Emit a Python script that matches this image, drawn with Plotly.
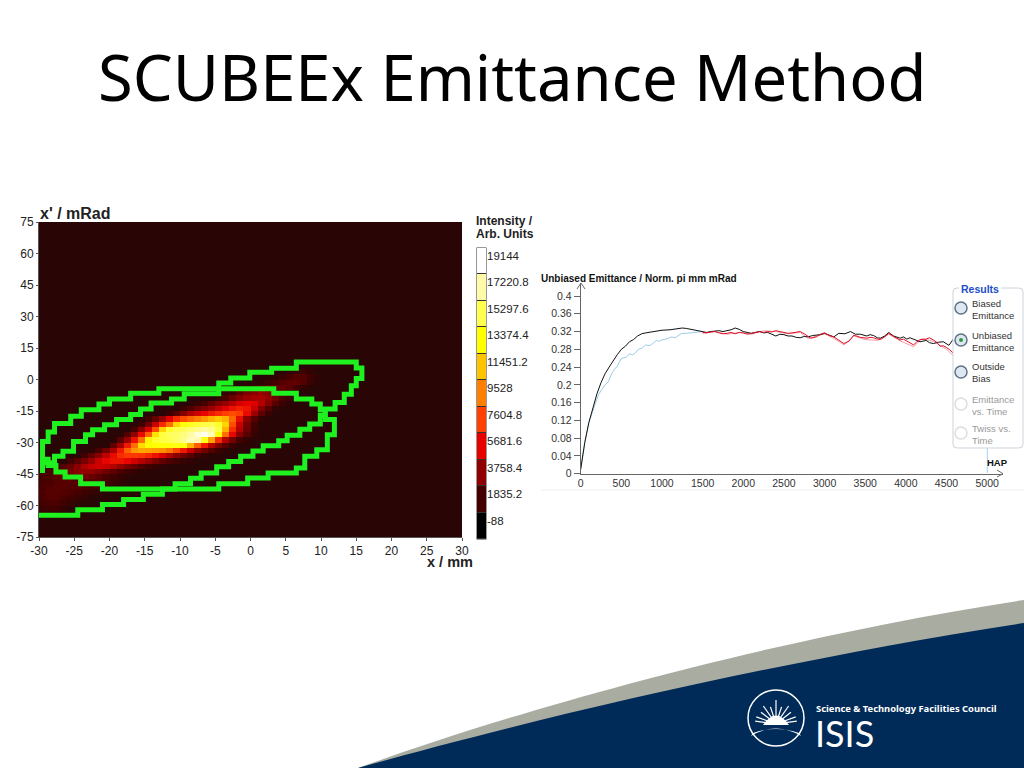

import math
import plotly.graph_objects as go

W, H = 1024, 768
title_text = "SCUBEEx Emittance Method"

# --- phase-space heat map (mm, mRad), intensities in thousands ---
x_ticks = [-30,-25,-20,-15,-10,-5,0,5,10,15,20,25,30]
x_tick_text = ["-30","-25","-20","-15","-10","-5","0","5","10","15","20","25","30"]
y_ticks = [75,60,45,30,15,0,-15,-30,-45,-60,-75]
y_tick_text = ["75","60","45","30","15","0","-15","-30","-45","-60","-75"]
background_level = 1.0
row_y = [3.75,1.25,-1.25,-3.75,-6.25,-8.75,-11.25,-13.75,-16.25,-18.75,-21.25,-23.75,-26.25,-28.75,-31.25,-33.75,-36.25,-38.75,-41.25,-43.75,-46.25,-48.75,-51.25,-53.75,-56.25,-58.75,-61.25,-63.75]
row_start = [5,3,1,-1,-4,-5,-8,-10,-12,-15,-16,-17,-18,-19,-20,-22,-24,-26,-28,-30,-30,-30,-30,-30,-30,-30,-30,-30]
row_vals = [
 [1.2,1.5,1.5,1.2],
 [1.2,1.5,1.9,2.2,2.2,1.6,1.2],
 [1.2,1.5,1.9,2.2,2.5,2.6,2.2,1.5,1.1],
 [1.3,1.6,2.0,2.4,2.6,2.7,2.4,1.8,1.3],
 [1.3,1.7,2.4,3.2,3.6,3.9,3.4,2.7,2.2,1.6,1.2],
 [1.4,2,2.8,3.5,4,4.3,4.3,3.8,3,2,1.5,1.1],
 [1.4,1.9,2.6,3.3,3.9,4.6,5.3,5.7,5.5,4.6,3.4,2.3,1.5],
 [1.5,2.1,2.8,3.4,4,4.8,5.6,6.2,6.6,6.3,5,3.4,2.2,1.4],
 [1.6,2.4,3.4,4.4,5.2,5.8,6.4,7,7.6,8,7.5,6,4,2.5,1.5],
 [1.6,2.6,4,5.6,7,8,8.8,9.5,10.2,11,11.6,11,8.8,6,3.6,2.2,1.3],
 [1.8,3,5,7,9,12,13.6,14.2,14.6,15,15.2,14.5,12,8,5,3,1.7],
 [2,3.6,5.5,8,12,14.4,15.2,15.6,16,16.6,17,16.6,15,11,7,4.6,2.8,1.6],
 [2.2,3.8,6,8.6,12.5,14.8,15.6,15.8,16.2,17,18.2,18.8,17.6,13.6,9,5.8,3.6,2.3,1.4],
 [2.4,4,6.2,9,13,14.4,15,15.2,15.8,16.6,17.6,17.4,14,10.5,7,4.6,3,1.9,1.3],
 [2.6,4.2,6.4,9,12.2,13.2,13.4,13.5,13.6,13.8,13.6,11,8.5,6.5,4.6,3.2,2.2,1.5,1.1],
 [2,3,4.4,6.4,8.6,10.2,10.6,10.4,10.2,10,9.2,7.8,6.4,5,3.8,2.9,2.2,1.6,1.2],
 [1.8,2.6,3.6,4.8,6,7,7.4,7.4,7.2,6.8,6.2,5.4,4.5,3.6,2.9,2.3,1.7,1.3,1.1],
 [1.8,2.4,3.2,4,5,5.8,6.2,6.2,5.8,5.2,4.6,3.9,3.2,2.6,2.1,1.7,1.4,1.2],
 [1.8,2.2,2.8,3.6,4.4,5,5.2,5,4.5,3.8,3.2,2.6,2.1,1.7,1.4,1.2],
 [1.7,2,2.3,2.8,3.2,3.6,3.8,3.8,3.4,2.9,2.4,2,1.6,1.3,1.1],
 [1.9,2.1,2.4,2.7,2.9,3,3,2.8,2.4,2,1.7,1.4,1.2],
 [1.9,2,2.2,2.3,2.3,2.3,2.3,2.4,2.2,1.9,1.5,1.3,1.1],
 [2.0,2.2,2.3,2.3,2.2,2.2,2.1,1.9,1.6,1.3,1.1],
 [2.1,2.3,2.3,2.2,2.1,1.9,1.6,1.4,1.2],
 [2,2.2,2.2,2,1.8,1.5,1.3],
 [1.8,2,2,1.7,1.4,1.2],
 [1.5,1.7,1.6,1.3],
 [1.3,1.3,1.2],
]

# green acceptance ellipses (stepped outlines)
ell1_x = [-29.5,-29.5,-28.7,-28.7,-27.8,-27.8,-25.5,-25.5,-24,-24,-21.5,-21.5,-20,-20,-17,-17,-13,-13,3.3,3.3,6.5,6.5,8.7,8.7,9.9,9.9,10.6,10.6,11.9,11.9,10.9,10.9,9.4,9.4,7.7,7.7,6.5,6.5,2.5,2.5,-0.4,-0.4,-4.5,-4.5,-21,-21,-24.1,-24.1,-26.3,-26.3,-27.6,-27.6,-28.7,-28.7,-29.5,-29.5]
ell1_y = [-36.5,-29.5,-29.5,-25,-25,-21,-21,-17.5,-17.5,-14.4,-14.4,-11.7,-11.7,-9.3,-9.3,-6.5,-6.5,-4.4,-4.4,-6.5,-6.5,-9.3,-9.3,-11.7,-11.7,-14.4,-14.4,-19,-19,-26.3,-26.3,-33.4,-33.4,-36.6,-36.6,-42.1,-42.1,-44.5,-44.5,-46.9,-46.9,-49.7,-49.7,-52.1,-52.1,-49.6,-49.6,-46.4,-46.4,-44,-44,-41,-41,-38,-38,-36.5]
ell2_x = [-30,-24.5,-24.5,-21,-21,-18,-18,-15.2,-15.2,-12.5,-12.5,-10.7,-10.7,-8.5,-8.5,-7,-7,-4.8,-4.8,-3.1,-3.1,-1.4,-1.4,0.35,0.35,1.8,1.8,4,4,5.2,5.2,7,7,8.4,8.4,9.9,9.9,10.6,10.6,12,12,13.3,13.3,14.3,14.3,15,15,15.8,15.8,15,15,6.5,6.5,3,3,-0.1,-0.1,-2.8,-2.8,-4.5,-4.5,-9.4,-9.4,-11.2,-11.2,-14.1,-14.1,-15.6,-15.6,-17,-17,-19,-19,-20.7,-20.7,-22.4,-22.4,-23.4,-23.4,-25.1,-25.1,-26.6,-26.6,-27.8,-27.8,-29.5,-29.5]
ell2_y = [-64.6,-64.6,-62,-62,-59.5,-59.5,-57.2,-57.2,-54.7,-54.7,-52.1,-52.1,-49.6,-49.6,-47,-47,-44.5,-44.5,-41.5,-41.5,-39,-39,-36.6,-36.6,-34,-34,-31.6,-31.6,-29.2,-29.2,-26.5,-26.5,-23.7,-23.7,-21.2,-21.2,-17,-17,-14,-14,-11,-11,-7,-7,-3,-3,0.5,0.5,5.5,5.5,8.3,8.3,5.4,5.4,3.4,3.4,0.7,0.7,-1.7,-1.7,-6.8,-6.8,-9.3,-9.3,-11.2,-11.2,-14,-14,-16.7,-16.7,-19.1,-19.1,-21.5,-21.5,-23.9,-23.9,-26.3,-26.3,-29.5,-29.5,-34.2,-34.2,-36.6,-36.6,-39.7,-39.7,-44.5]

# colour bar
bar_levels = [19144,17220.8,15297.6,13374.4,11451.2,9528,7604.8,5681.6,3758.4,1835.2,-88]
bar_labels = ["19144","17220.8","15297.6","13374.4","11451.2","9528","7604.8","5681.6","3758.4","1835.2","-88"]
bar_colours = ["#ffffff","#fffaa8","#ffff50","#ffff00","#ffc400","#ff8000","#ff4000","#e60000","#900000","#440000","#000000"]
floor_level = 1000
floor_colour = "#2a0505"

# --- emittance vs HAP ---
hap_ticks = [0,500,1000,1500,2000,2500,3000,3500,4000,4500,5000]
hap_tick_text = ["0","500","1000","1500","2000","2500","3000","3500","4000","4500","5000"]
em_ticks = [0,0.04,0.08,0.12,0.16,0.2,0.24,0.28,0.32,0.36,0.4]
em_tick_text = ["0","0.04","0.08","0.12","0.16","0.2","0.24","0.28","0.32","0.36","0.4"]
black_x = [0,25,50,100,150,200,250,300,350,400,450,500,550,600,650,700,750,800,900,1000,1100,1200,1250,1300,1400,1500,1550,1600,1650,1700,1750,1800,1850,1900,1950,2000,2050,2100,2150,2200,2250,2300,2350,2400,2450,2500,2550,2600,2650,2700,2750,2800,2850,2900,2950,3000,3060,3114,3175,3250,3318,3380,3440,3520,3560,3604,3650,3686,3740,3788,3850,3930,3970,4012,4050,4094,4130,4175,4250,4290,4339,4400,4461,4530,4584]
black_y = [0.01,0.04,0.07,0.115,0.15,0.18,0.205,0.225,0.24,0.255,0.268,0.28,0.287,0.297,0.302,0.31,0.315,0.317,0.32,0.323,0.324,0.327,0.328,0.327,0.323,0.32,0.318,0.32,0.321,0.322,0.32,0.322,0.324,0.328,0.325,0.32,0.318,0.316,0.318,0.32,0.317,0.318,0.314,0.31,0.314,0.313,0.31,0.31,0.307,0.306,0.309,0.308,0.311,0.312,0.313,0.316,0.311,0.308,0.316,0.315,0.32,0.314,0.314,0.31,0.313,0.311,0.306,0.305,0.31,0.318,0.31,0.305,0.308,0.303,0.306,0.303,0.299,0.297,0.3,0.295,0.293,0.296,0.297,0.289,0.303]
blue_x = [0,25,50,100,150,217,260,300,340,380,422,445,470,504,560,600,640,668,710,750,800,840,873,930,960,996,1050,1119,1160,1190,1242,1300,1365,1430,1500]
blue_y = [0.01,0.04,0.07,0.115,0.14,0.177,0.19,0.2,0.207,0.225,0.237,0.24,0.25,0.26,0.262,0.27,0.268,0.271,0.28,0.282,0.29,0.288,0.291,0.3,0.298,0.301,0.303,0.308,0.306,0.31,0.316,0.316,0.317,0.318,0.32]
red_x = [1500,1550,1600,1650,1700,1750,1800,1850,1900,1950,2000,2050,2100,2150,2200,2250,2300,2350,2400,2450,2500,2550,2600,2650,2700,2750,2790,2830,2900,2950,3000,3060,3114,3175,3237,3300,3360,3440,3522,3560,3600,3650,3686,3740,3788,3860,3930,3970,4012,4050,4094,4130,4175,4250,4290,4339,4380,4420,4460,4500,4540,4584]
red_y = [0.318,0.317,0.319,0.32,0.317,0.315,0.316,0.318,0.315,0.318,0.317,0.314,0.316,0.318,0.32,0.318,0.32,0.319,0.322,0.32,0.318,0.316,0.317,0.319,0.32,0.315,0.31,0.305,0.308,0.314,0.317,0.311,0.308,0.3,0.293,0.298,0.312,0.307,0.305,0.307,0.306,0.303,0.302,0.308,0.316,0.308,0.301,0.303,0.298,0.295,0.29,0.296,0.302,0.303,0.306,0.301,0.296,0.287,0.288,0.284,0.279,0.271]
pink_x = [1500,1650,1800,1950,2100,2250,2400,2550,2700,2800,2900,3000,3120,3240,3360,3500,3650,3790,3930,4094,4200,4339,4500,4584]
pink_y = [0.316,0.32,0.314,0.318,0.314,0.322,0.32,0.315,0.318,0.304,0.31,0.315,0.304,0.29,0.31,0.302,0.3,0.314,0.299,0.286,0.304,0.298,0.28,0.266]

results_options = ["Biased<br>Emittance","Unbiased<br>Emittance","Outside<br>Bias","Emittance<br>vs. Time","Twiss vs.<br>Time"]
results_active = [True,True,True,False,False]
results_selected = [False,True,False,False,False]
ray_angles = [20,38,55,72,90,108,125,142,160,8,172]
ray_lengths = [21,19,22,18,24,18,22,19,21,21,21]


def px(x): return x / W
def py(y): return 1 - y / H

# build the intensity grid
grid_x = [c + 0.5 for c in range(-30, 30)]
grid_y = [75 - 2.5 * (j + 0.5) for j in range(60)]
z = [[background_level * 1000 for _ in grid_x] for _ in grid_y]
for ry, start, vals in zip(row_y, row_start, row_vals):
    j = grid_y.index(ry)
    for k, v in enumerate(vals):
        z[j][start + 30 + k] = v * 1000

zmin, zmax = -88, 19144
stops = sorted(list(zip(bar_levels, bar_colours)) + [(floor_level, floor_colour)])
colourscale = [[(lv - zmin) / (zmax - zmin), c] for lv, c in stops]

fig = go.Figure()
fig.add_trace(go.Heatmap(x=grid_x, y=grid_y, z=z, colorscale=colourscale, zmin=zmin, zmax=zmax,
                         showscale=False, xaxis="x", yaxis="y"))
green = "#1ff01f"
for xs, ys in ((ell1_x, ell1_y), (ell2_x, ell2_y)):
    fig.add_trace(go.Scatter(x=xs, y=ys, mode="lines", line=dict(color=green, width=5),
                             xaxis="x", yaxis="y", showlegend=False))

step = bar_levels[0] - bar_levels[1]
edges = [v - 0.7 * step for v in reversed(bar_levels)] + [bar_levels[0] + 0.3 * step]
fig.add_trace(go.Heatmap(x=[0, 1], y=edges, z=[[v] for v in reversed(bar_levels)], colorscale=colourscale,
                         zmin=zmin, zmax=zmax, showscale=False, ygap=1, xaxis="x3", yaxis="y3"))

fig.add_trace(go.Scatter(x=pink_x, y=pink_y, mode="lines", line=dict(color="#f0a0a8", width=1), xaxis="x2", yaxis="y2", showlegend=False))
fig.add_trace(go.Scatter(x=blue_x, y=blue_y, mode="lines", line=dict(color="#9ccbe6", width=1), xaxis="x2", yaxis="y2", showlegend=False))
fig.add_trace(go.Scatter(x=black_x, y=black_y, mode="lines", line=dict(color="#111111", width=1), xaxis="x2", yaxis="y2", showlegend=False))
fig.add_trace(go.Scatter(x=red_x, y=red_y, mode="lines", line=dict(color="#e01028", width=1), xaxis="x2", yaxis="y2", showlegend=False))

tf = dict(family="Liberation Sans", size=12, color="#222222")
tfb = dict(family="Liberation Sans", size=11.5, color="#222222")
tf2 = dict(family="Liberation Sans", size=10.5, color="#333333")

fig.update_layout(
    width=W, height=H, margin=dict(l=0, r=0, t=0, b=0, autoexpand=False), paper_bgcolor="white", plot_bgcolor="white",
    showlegend=False,
    xaxis=dict(domain=[px(39), px(462)], range=[-30, 30], tickvals=x_ticks, ticktext=x_tick_text, showgrid=False, zeroline=False,
               showline=True, linecolor="#555", ticks="outside", ticklen=3, tickcolor="#555", tickfont=tf, anchor="y", automargin=False),
    yaxis=dict(domain=[py(537), py(222)], range=[-75, 75], tickvals=y_ticks, ticktext=y_tick_text, showgrid=False, zeroline=False,
               showline=True, linecolor="#555", ticks="outside", ticklen=2, tickcolor="#555", tickfont=tf, anchor="x", automargin=False),
    xaxis2=dict(domain=[px(580.7), px(1003)], range=[0, 5195], tickvals=hap_ticks, ticktext=hap_tick_text, showgrid=False, zeroline=False,
                showline=True, linecolor="#666", ticks="", tickfont=tf2, anchor="y2", automargin=False),
    yaxis2=dict(domain=[py(473.7), py(283)], range=[0, 0.4293], tickvals=em_ticks, ticktext=em_tick_text, showgrid=False, zeroline=False,
                showline=True, linecolor="#666", ticks="outside", ticklen=6, tickcolor="#666", tickfont=tf2, anchor="x2", automargin=False),
    xaxis3=dict(domain=[px(477), px(486)], range=[0, 1], visible=False, anchor="y3"),
    yaxis3=dict(domain=[py(539), py(248)], range=[edges[0], edges[-1]], tickvals=bar_levels, ticktext=bar_labels, side="right",
                showgrid=False, zeroline=False, ticks="", tickfont=tfb, anchor="x3", showline=False, automargin=False),
)

shapes = []
def line(x0, y0, x1, y1, color, width=1):
    shapes.append(dict(type="line", xref="paper", yref="paper", x0=px(x0), y0=py(y0), x1=px(x1), y1=py(y1),
                       line=dict(color=color, width=width)))

def swoosh(points, color):
    d = "M %f,%f " % (px(1024), py(768)) + "L %f,%f " % (px(358), py(768))
    for (a, b, c, e, f, g) in points:
        d += "C %f,%f %f,%f %f,%f " % (px(a), py(b), px(c), py(e), px(f), py(g))
    d += "Z"
    shapes.append(dict(type="path", path=d, xref="paper", yref="paper", fillcolor=color, line=dict(width=0), layer="below"))

swoosh([(500, 716, 760, 640, 1024, 600)], "#a9aca1")
swoosh([(520, 722, 780, 660, 1024, 623)], "#002a57")

# colour bar backing
shapes.append(dict(type="rect", xref="paper", yref="paper", x0=px(476.5), x1=px(486.5), y0=py(539.5), y1=py(247.5),
                   fillcolor="#333", line=dict(width=0), layer="below"))
# arrows & separators on right chart
line(581, 283, 577, 289, "#666"); line(581, 283, 585, 289, "#666")
line(1003, 473.7, 997, 470, "#666"); line(1003, 473.7, 997, 477, "#666")
line(987.3, 448, 987.3, 473, "#a9d3ea")
line(541, 490, 1024, 490, "#eeeeee")
# panel
def rr(x0, y0, x1, y1, r):
    return ("M %f,%f L %f,%f Q %f,%f %f,%f L %f,%f Q %f,%f %f,%f L %f,%f Q %f,%f %f,%f L %f,%f Q %f,%f %f,%f Z" % (
        px(x0+r),py(y0),px(x1-r),py(y0),px(x1),py(y0),px(x1),py(y0+r),px(x1),py(y1-r),px(x1),py(y1),px(x1-r),py(y1),
        px(x0+r),py(y1),px(x0),py(y1),px(x0),py(y1-r),px(x0),py(y0+r),px(x0),py(y0),px(x0+r),py(y0)))
shapes.append(dict(type="path", path=rr(953, 288, 1023, 448, 4), xref="paper", yref="paper", fillcolor="white",
                   line=dict(color="#ccd2da", width=1)))

annotations = []
def text(x, y, s, size, color="#000", bold=False, family="Liberation Sans", anchor="left"):
    if bold: s = "<b>%s</b>" % s
    if anchor == "left": x -= 2
    annotations.append(dict(x=px(x), y=py(y), xref="paper", yref="paper", text=s, showarrow=False, xanchor=anchor,
                            yanchor="middle", align="left", font=dict(family=family, size=size, color=color)))

option_y = [308, 340, 372, 404, 433]
for lab, act, sel, oy in zip(results_options, results_active, results_selected, option_y):
    shapes.append(dict(type="circle", xref="paper", yref="paper", x0=px(955), x1=px(967), y0=py(oy+6), y1=py(oy-6),
                       fillcolor="#dfe8f2" if act else "#ffffff", line=dict(color="#5f7384" if act else "#dddddd", width=1.5)))
    if sel:
        shapes.append(dict(type="circle", xref="paper", yref="paper", x0=px(959), x1=px(963), y0=py(oy+2), y1=py(oy-2),
                           fillcolor="#2f9a3f", line=dict(width=0)))
    text(972, oy + 1, lab, 9.5, "#333333" if act else "#999999")

shapes.append(dict(type="rect", xref="paper", yref="paper", x0=px(959), x1=px(1001), y0=py(293), y1=py(284), fillcolor="white", line=dict(width=0)))
text(961, 288.5, "Results", 10.5, "#2050c8", True)

text(40, 214, "x' / mRad", 16, "#222", True)
text(427, 562, "x / mm", 14.5, "#222", True)
text(476, 221, "Intensity /", 12, "#222", True)
text(476, 234, "Arb. Units", 12, "#222", True)
text(541, 278, "Unbiased Emittance / Norm. pi mm mRad", 10, "#111", True)
text(987, 462, "HAP", 9.5, "#111", True)
text(512, 77, title_text, 63.3, "#000", False, "Noto Sans", "center")

# logo
cx, cy = 776, 718
shapes.append(dict(type="circle", xref="paper", yref="paper", x0=px(cx-28), x1=px(cx+28), y0=py(cy+28), y1=py(cy-28),
                   line=dict(color="white", width=1.5)))
for ang, ln in zip(ray_angles, ray_lengths):
    a = math.radians(ang)
    line(cx + 6*math.cos(a), cy + 6 - 6*math.sin(a), cx + ln*math.cos(a), cy + 6 - ln*math.sin(a), "white", 1.2)
d = "M %f,%f " % (px(cx-13), py(cy+7))
d += "Q %f,%f %f,%f Z" % (px(cx), py(cy-12), px(cx+13), py(cy+7))
shapes.append(dict(type="path", path=d, xref="paper", yref="paper", fillcolor="white", line=dict(width=0)))
d = "M %f,%f Q %f,%f %f,%f L %f,%f Q %f,%f %f,%f Z" % (px(cx-25), py(cy+18), px(cx), py(cy+3), px(cx+25), py(cy+18),
                                                      px(cx+23), py(cy+15), px(cx), py(cy+7), px(cx-23), py(cy+15))
shapes.append(dict(type="path", path=d, xref="paper", yref="paper", fillcolor="white", line=dict(width=0)))
text(816, 708, "Science &amp; Technology Facilities Council", 9.4, "white", True, "Noto Sans")
text(815, 733, "ISIS", 36, "white", False, "Lato")

fig.update_layout(shapes=shapes, annotations=annotations)
fig.write_html("out.html", config={"displayModeBar": False, "responsive": False},
               default_width="1024px", default_height="768px",
               post_script="document.documentElement.style.margin='0';document.body.style.margin='0';document.body.style.padding='0';document.body.style.overflow='hidden';")
